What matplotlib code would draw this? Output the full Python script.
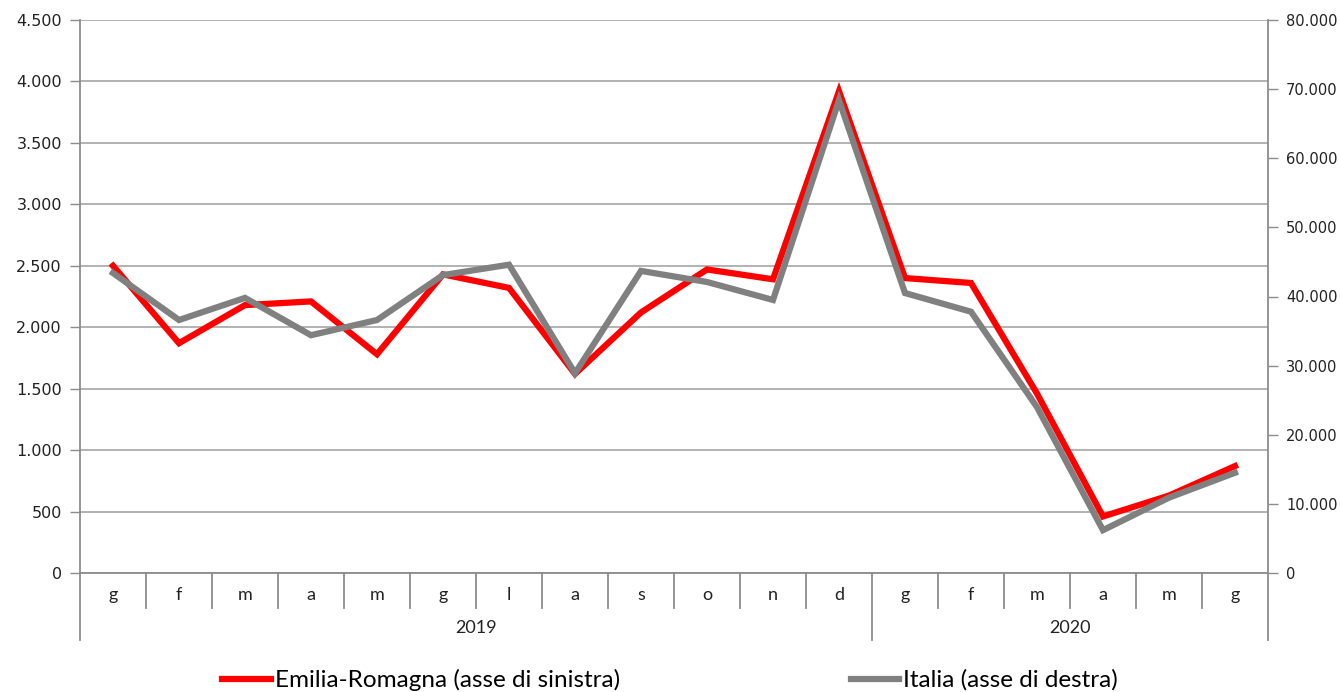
import matplotlib.pyplot as plt
from matplotlib.ticker import FuncFormatter
from matplotlib.lines import Line2D

# mesi (etichette asse categorie)
months = ['g', 'f', 'm', 'a', 'm', 'g', 'l', 'a', 's', 'o', 'n', 'd',
          'g', 'f', 'm', 'a', 'm', 'g']
years = ['2019', '2020']
year_len = [12, 6]

# valori
emilia_romagna = [2500, 1870, 2180, 2210, 1780, 2430, 2320, 1620, 2120, 2470,
                  2390, 3920, 2400, 2360, 1460, 460, 630, 870]
italia = [43400, 36600, 39800, 34400, 36600, 43100, 44600, 28900, 43700, 42100,
          39500, 68400, 40500, 37800, 24000, 6200, 10900, 14500]

left_ticks = list(range(0, 4501, 500))
right_ticks = list(range(0, 80001, 10000))

label_font = 'Lato'
axis_col = '#8c8c8c'
grid_col = '#a6a6a6'


def dot_thousands(v, pos):
    return '{:,.0f}'.format(v).replace(',', '.')


fig = plt.figure(figsize=(13.4, 6.92), dpi=100)
ax = fig.add_axes([80 / 1340, 1 - 573 / 692, 1188 / 1340, 553 / 692])
ax2 = ax.twinx()

x = list(range(len(months)))
ax.plot(x, emilia_romagna, color='#ff0000', lw=4.5, solid_joinstyle='miter', zorder=3)
ax2.plot(x, italia, color='#808080', lw=4.5, solid_joinstyle='miter', zorder=3)

ax.set_xlim(-0.5, len(months) - 0.5)
ax.set_ylim(0, 4500)
ax2.set_ylim(0, 80000)
ax.set_yticks(left_ticks)
ax2.set_yticks(right_ticks)
ax.yaxis.set_major_formatter(FuncFormatter(dot_thousands))
ax2.yaxis.set_major_formatter(FuncFormatter(dot_thousands))

for a in (ax, ax2):
    for s in a.spines.values():
        s.set_visible(False)
    a.set_xticks([])
ax.tick_params(axis='y', length=7, width=1, color=axis_col, labelsize=11.5,
               labelcolor='#222222', pad=6)
ax2.tick_params(axis='y', length=7, width=1, color=axis_col, labelsize=10.5,
                labelcolor='#222222', pad=6)

ax.grid(axis='y', color=grid_col, lw=1.2)
ax.set_axisbelow(True)
ax2.set_zorder(ax.get_zorder() + 1)
ax.set_zorder(ax2.get_zorder() - 1)

# assi verticali prolungati nella zona categorie
depth_month = 35 / 553
depth_year = 67 / 553
for xa in (0, 1):
    ax.plot([xa, xa], [-depth_year, 1], transform=ax.transAxes, color=axis_col,
            lw=1.3, clip_on=False)
ax.plot([0, 1], [0, 0], transform=ax.transAxes, color=axis_col, lw=1.3, clip_on=False)

trans = ax.get_xaxis_transform()
year_edges = [0]
for n in year_len:
    year_edges.append(year_edges[-1] + n)
for i in range(1, len(months)):
    d = depth_year if i in year_edges else depth_month
    ax.plot([i - 0.5, i - 0.5], [-d, 0], transform=trans, color=axis_col,
            lw=1.3, clip_on=False)

for i, m in enumerate(months):
    ax.text(i, -22 / 553, m, transform=trans, ha='center', va='center',
            fontsize=13, family=label_font, color='#222222')

for k, yr in enumerate(years):
    mid = (year_edges[k] + year_edges[k + 1]) / 2 - 0.5
    ax.text(mid, -55 / 553, yr, transform=trans, ha='center', va='center',
            fontsize=13, family=label_font, color='#222222')

handles = [Line2D([], [], color='#ff0000', lw=4.5),
           Line2D([], [], color='#808080', lw=4.5)]
fig.legend(handles, ['Emilia-Romagna (asse di sinistra)', 'Italia (asse di destra)'],
           loc='center', bbox_to_anchor=(0.5, 12 / 692), ncol=2, frameon=False,
           handlelength=2.0, handletextpad=0.15, columnspacing=9.5,
           prop={'family': label_font, 'size': 17.5})

fig.savefig('out.png', dpi=100)
